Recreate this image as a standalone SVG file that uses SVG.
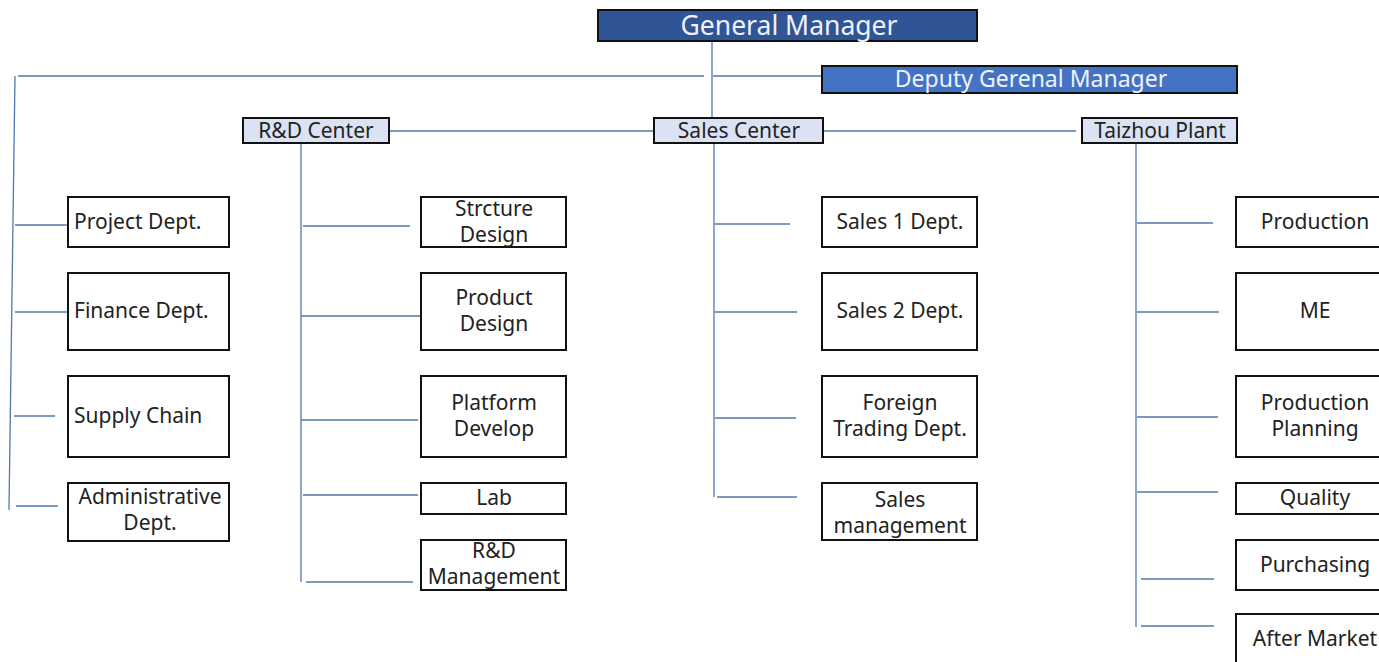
<svg xmlns="http://www.w3.org/2000/svg" width="1379" height="662" viewBox="0 0 1379 662">
<style>
text{font-family:"Noto Sans","Open Sans","DejaVu Sans",sans-serif;fill:#222;font-size:21px;text-anchor:middle}
.box{fill:#fff;stroke:#111;stroke-width:2}
.ctr{fill:#DAE2F3;stroke:#111;stroke-width:2}
.top{fill:#2F5597;stroke:#111;stroke-width:2}
.dep{fill:#4472C4;stroke:#111;stroke-width:2}
text.gmt{fill:#EEF2FA;font-size:26.5px}
text.dgt{fill:#EEF2FA;font-size:23px}
text.l{text-anchor:start}
#connectors line{stroke:#4F79AE;stroke-width:1.3}
</style>
<rect width="1379" height="662" fill="#fff"/>
<g id="connectors">
<line x1="712" y1="41" x2="712" y2="118"/>
<line x1="18" y1="76" x2="704" y2="76"/>
<line x1="713" y1="76" x2="822" y2="76"/>
<line x1="15" y1="76" x2="9" y2="510"/>
<line x1="15" y1="225" x2="68" y2="225"/>
<line x1="15" y1="312" x2="68" y2="312"/>
<line x1="14" y1="416" x2="55" y2="416"/>
<line x1="16" y1="506" x2="58" y2="506"/>
<line x1="389" y1="131" x2="654" y2="131"/>
<line x1="823" y1="131" x2="1076" y2="131"/>
<line x1="301" y1="143" x2="301" y2="582"/>
<line x1="303" y1="226" x2="410" y2="226"/>
<line x1="301" y1="316" x2="420" y2="316"/>
<line x1="301" y1="420" x2="418" y2="420"/>
<line x1="303" y1="495" x2="418" y2="495"/>
<line x1="306" y1="582" x2="413" y2="582"/>
<line x1="714" y1="143" x2="714" y2="497"/>
<line x1="715" y1="224" x2="790" y2="224"/>
<line x1="715" y1="312" x2="797" y2="312"/>
<line x1="715" y1="418" x2="796" y2="418"/>
<line x1="717" y1="497" x2="797" y2="497"/>
<line x1="1136" y1="143" x2="1136" y2="627"/>
<line x1="1137" y1="223" x2="1213" y2="223"/>
<line x1="1137" y1="312" x2="1219" y2="312"/>
<line x1="1137" y1="417" x2="1218" y2="417"/>
<line x1="1137" y1="492" x2="1218" y2="492"/>
<line x1="1141" y1="579" x2="1214" y2="579"/>
<line x1="1141" y1="626" x2="1214" y2="626"/>
</g>
<g id="gm"><rect class="top" x="598" y="10" width="379" height="31"/><text class="gmt" x="789" y="35">General Manager</text></g>
<g id="dgm"><rect class="dep" x="822" y="66" width="415" height="27"/><text class="dgt" x="1031" y="87">Deputy Gerenal Manager</text></g>
<g id="rd"><rect class="ctr" x="243" y="118" width="146" height="25"/><text x="316" y="138">R&amp;D Center</text></g>
<g id="sales"><rect class="ctr" x="654" y="118" width="169" height="25"/><text x="739" y="138">Sales Center</text></g>
<g id="taizhou"><rect class="ctr" x="1082" y="118" width="155" height="25"/><text x="1160" y="138">Taizhou Plant</text></g>

<g id="project"><rect class="box" x="68" y="197" width="161" height="50"/><text class="l" x="74" y="229">Project Dept.</text></g>
<g id="finance"><rect class="box" x="68" y="273" width="161" height="77"/><text class="l" x="74" y="318">Finance Dept.</text></g>
<g id="supply"><rect class="box" x="68" y="376" width="161" height="81"/><text class="l" x="74" y="423">Supply Chain</text></g>
<g id="admin"><rect class="box" x="68" y="483" width="161" height="58"/><text x="150" y="504"><tspan x="150">Administrative</tspan><tspan x="150" dy="26">Dept.</tspan></text></g>

<g id="structure"><rect class="box" x="421" y="197" width="145" height="50"/><text x="494" y="216"><tspan x="494">Strcture</tspan><tspan x="494" dy="26">Design</tspan></text></g>
<g id="product"><rect class="box" x="421" y="273" width="145" height="77"/><text x="494" y="305"><tspan x="494">Product</tspan><tspan x="494" dy="26">Design</tspan></text></g>
<g id="platform"><rect class="box" x="421" y="376" width="145" height="81"/><text x="494" y="410"><tspan x="494">Platform</tspan><tspan x="494" dy="26">Develop</tspan></text></g>
<g id="lab"><rect class="box" x="421" y="483" width="145" height="31"/><text x="494" y="505">Lab</text></g>
<g id="rdmgmt"><rect class="box" x="421" y="540" width="145" height="50"/><text x="494" y="558"><tspan x="494">R&amp;D</tspan><tspan x="494" dy="26">Management</tspan></text></g>

<g id="sales1"><rect class="box" x="822" y="197" width="155" height="50"/><text x="900" y="229">Sales 1 Dept.</text></g>
<g id="sales2"><rect class="box" x="822" y="273" width="155" height="77"/><text x="900" y="318">Sales 2 Dept.</text></g>
<g id="foreign"><rect class="box" x="822" y="376" width="155" height="81"/><text x="900" y="410"><tspan x="900">Foreign</tspan><tspan x="900" dy="26">Trading Dept.</tspan></text></g>
<g id="salesmgmt"><rect class="box" x="822" y="483" width="155" height="57"/><text x="900" y="507"><tspan x="900">Sales</tspan><tspan x="900" dy="26">management</tspan></text></g>

<g id="production"><rect class="box" x="1236" y="197" width="160" height="50"/><text x="1315" y="229">Production</text></g>
<g id="me"><rect class="box" x="1236" y="273" width="160" height="77"/><text x="1315" y="318">ME</text></g>
<g id="planning"><rect class="box" x="1236" y="376" width="160" height="81"/><text x="1315" y="410"><tspan x="1315">Production</tspan><tspan x="1315" dy="26">Planning</tspan></text></g>
<g id="quality"><rect class="box" x="1236" y="483" width="160" height="31"/><text x="1315" y="505">Quality</text></g>
<g id="purchasing"><rect class="box" x="1236" y="540" width="160" height="50"/><text x="1315" y="572">Purchasing</text></g>
<g id="aftermarket"><rect class="box" x="1236" y="614" width="160" height="60"/><text x="1315" y="646">After Market</text></g>
</svg>
